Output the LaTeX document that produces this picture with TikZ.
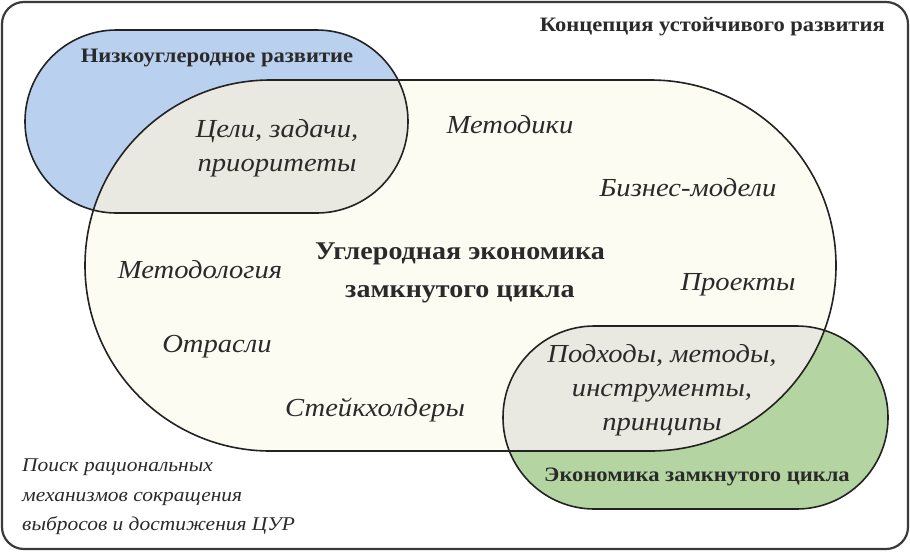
\documentclass[tikz,border=0pt]{standalone}
\usepackage{fontspec}
\setmainfont{Liberation Serif}[FakeStretch=1.1]
\definecolor{frame}{HTML}{3A3A3A}
\definecolor{edge}{HTML}{222222}
\definecolor{cream}{HTML}{FDFCF3}
\definecolor{bluef}{HTML}{B9D0EF}
\definecolor{greenf}{HTML}{B4D4A2}
\definecolor{overl}{HTML}{E9E9E1}
\definecolor{txt}{HTML}{2A2A2A}
\begin{document}
\begin{tikzpicture}[x=1pt,y=-1pt,
  outline/.style={draw=edge,line width=1.6pt},
  boldlab/.style={font=\bfseries\fontsize{20.5}{24}\selectfont,text=txt,inner sep=0pt},
  bigbold/.style={font=\bfseries\fontsize{25.5}{38}\selectfont,text=txt,inner sep=0pt,align=center},
  itl/.style={font=\itshape\fontsize{26}{34}\selectfont,text=txt,inner sep=0pt,align=center},
  smallitl/.style={font=\itshape\fontsize{19.5}{29.5}\selectfont,text=txt,inner sep=0pt,align=left}]
\useasboundingbox (0,0) rectangle (910,552);
% outer frame
\draw[draw=frame,line width=2.2pt,fill=white,rounded corners=22pt] (2,2) rectangle (908,549);
% fills
\fill[cream,rounded corners=185.4pt] (85,80) rectangle (836,451);
\fill[bluef,rounded corners=91.4pt] (25,30) rectangle (408,213);
\fill[greenf,rounded corners=91.4pt] (503,326) rectangle (888,509);
% overlaps
\begin{scope}
  \clip[rounded corners=185.4pt] (85,80) rectangle (836,451);
  \fill[overl,rounded corners=91.4pt] (25,30) rectangle (408,213);
  \fill[overl,rounded corners=91.4pt] (503,326) rectangle (888,509);
\end{scope}
% outlines
\draw[outline,rounded corners=185.4pt] (85,80) rectangle (836,451);
\draw[outline,rounded corners=91.4pt] (25,30) rectangle (408,213);
\draw[outline,rounded corners=91.4pt] (503,326) rectangle (888,509);
% texts
\node[boldlab,anchor=east] (concept) at (885,27) {Концепция устойчивого развития};
\node[boldlab] (lowcarb) at (217,58) {Низкоуглеродное развитие};
\node[boldlab] (circ) at (697,477) {Экономика замкнутого цикла};
\node[bigbold] (central) at (460,273) {Углеродная экономика\\замкнутого цикла};
\node[itl] (goals) at (277,148) {Цели, задачи,\\приоритеты};
\node[itl] (approach) at (662,390) {Подходы, методы,\\инструменты,\\принципы};
\node[itl] (metodiki) at (510,125) {Методики};
\node[itl] (business) at (688,188) {Бизнес-модели};
\node[itl] (methodology) at (200,270) {Методология};
\node[itl] (projects) at (738,285) {Проекты};
\node[itl] (sectors) at (217,347) {Отрасли};
\node[itl] (stake) at (375,410) {Стейкхолдеры};
\node[smallitl,anchor=north west] (search) at (22,459) {Поиск рациональных\\механизмов сокращения\\выбросов и достижения ЦУР};
\end{tikzpicture}
\end{document}
